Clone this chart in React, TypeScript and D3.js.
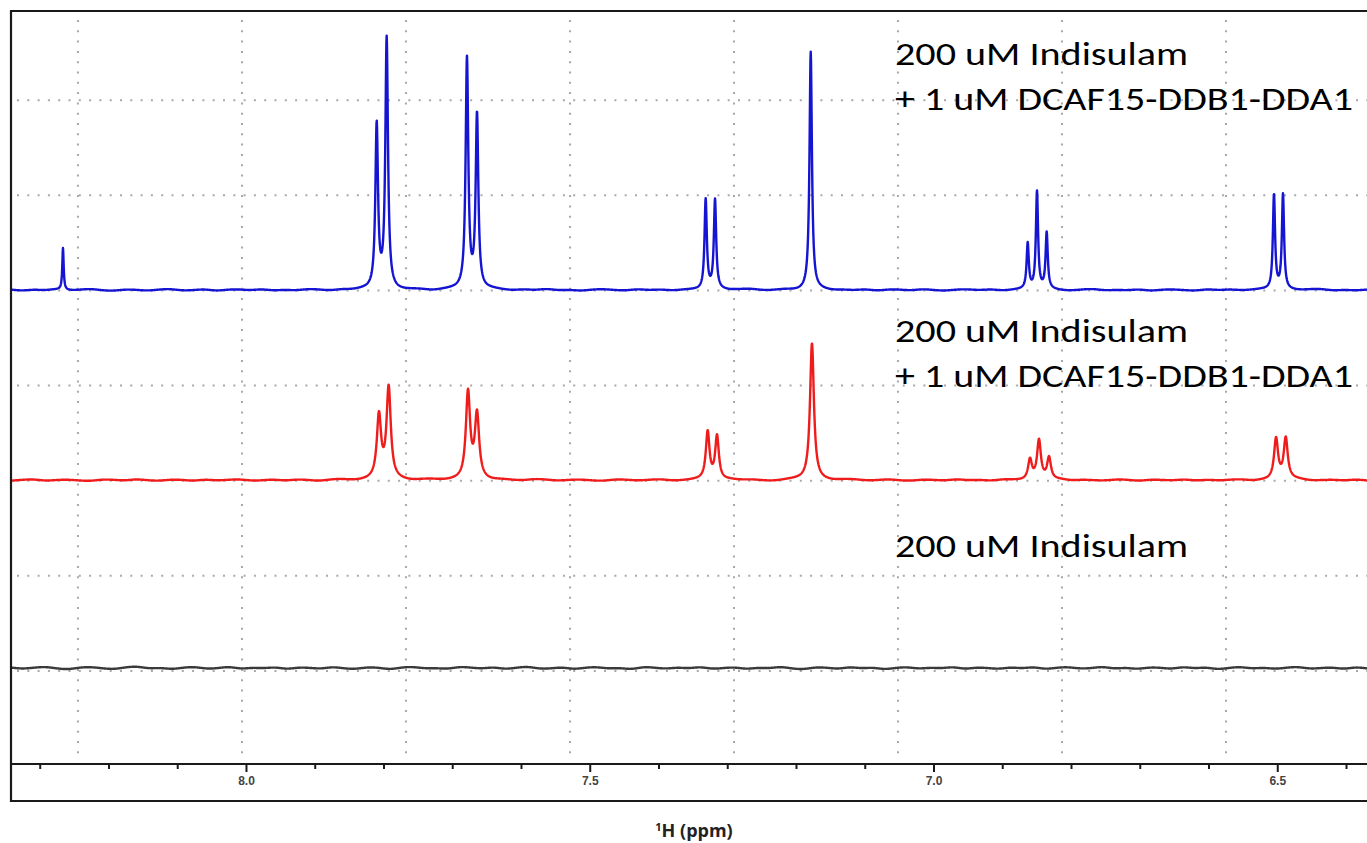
import React from "react";
import * as d3 from "d3";

// ---- data ----
const ppmDomain: [number, number] = [8.3425, 6.3702];
const majorTicks = [8.0, 7.5, 7.0, 6.5];
const majorTickLabels = ["8.0", "7.5", "7.0", "6.5"];
const minorTicks = [8.3, 8.2, 8.1, 7.9, 7.8, 7.7, 7.6, 7.4, 7.3, 7.2, 7.1, 6.9, 6.8, 6.7, 6.6, 6.4];
const gridPpm = [8.2451, 8.0065, 7.768, 7.5294, 7.2909, 7.0524, 6.8138, 6.5753];
const gridLevels = [1, 2, 3, 4, 5, 6, 7];

// peaks: position (ppm), height (intensity units), half width (ppm)
const bluePos = [8.2669, 7.8106, 7.7961, 7.6793, 7.6647, 7.3321, 7.3185, 7.1793, 6.8637, 6.8502, 6.8361, 6.5055, 6.4924];
const blueHeight = [0.44, 1.72, 2.63, 2.42, 1.83, 0.95, 0.94, 2.5, 0.48, 1.03, 0.59, 1.0, 1.0];
const blueWidth = [0.0012, 0.0023, 0.0023, 0.0023, 0.0023, 0.002, 0.002, 0.0021, 0.0019, 0.0019, 0.0019, 0.0019, 0.0019];

const redPos = [7.8073, 7.7932, 7.6778, 7.6647, 7.3292, 7.3156, 7.1775, 6.8604, 6.8473, 6.8327, 6.5025, 6.4884];
const redHeight = [0.66, 0.96, 0.91, 0.67, 0.5, 0.46, 1.44, 0.21, 0.41, 0.23, 0.43, 0.43];
const redWidth = [0.0037, 0.0037, 0.0037, 0.0037, 0.0032, 0.0032, 0.0034, 0.0033, 0.0033, 0.0033, 0.0035, 0.0035];

const blackPos: number[] = [];
const blackHeight: number[] = [];
const blackWidth: number[] = [];

// baseline offsets (intensity units)
const blueOffset = 5.004;
const redOffset = 3.005;
const blackOffset = 1.03;

// baseline wiggle (milli-units), spread evenly across the window
const blueNoise = [4, -9, 6, -5, 11, -6, 2, 13, -4, -10, 6, 2, -9, 5, 12, -7, -2, 9, -11, 4, 7, -5, 10, -8, 2, -7, 9, 4, -10, 6, -3, 10, -7, 4, -9, 2, 6, -12, 5, 9, -4, -7, 11, 2, -9, 6, -5, 13, -6, 2, -11, 4, 9, -2, -7, 10, -4, 6, -9, 2, 4, -10, 8, -4, 7, 12, -6, -2, 9, -8, 4, 10, -7, 2, -5, 8, -10, 6, 4, -7, 11, -2, -9, 5, 7, -4, 8, -10, 2, 7, -6, 10, -4, -9, 4, 12, -7, 2, -5, 9, -11, 4, 6, -2, -9, 10, -4, 7, -6, 2, 9, -10, 4, -5, 7, 11, -8, 2, -6, 4];
const redNoise = [-6, 4, 10, -8, 2, 6, -4, -10, 8, 4, -6, 12, -2, -8, 6, 4, -10, 8, -4, 2, 10, -6, -4, 8, -8, 6, 2, -12, 4, 10, -6, -2, 8, -4, 6, -10, 4, 8, -6, 2, -4, 10, -8, 6, -2, -6, 12, 4, -8, 2, 6, -4, -10, 8, 4, -6, 2, 10, -8, -4, 6, 4, -10, 8, -2, 6, -6, -12, 4, 10, -4, 2, -8, 6, 8, -6, -2, 10, -4, -8, 6, 2, -6, 12, -4, 4, -10, 8, 2, -6, 6, -4, 10, -8, 4, -2, -6, 8, 4, -10, 6, 2, -4, 10, -8, 6, -6, 4, 8, -10, 2, -4, 6, 12, -8, -2, 4, -6, 8, -4];
const blackNoise = [5, -9, 4, 14, -5, -16, 7, 11, -4, -13, 9, 18, -7, 4, -14, 5, 13, -9, -2, 16, -11, 5, -4, 11, -14, 7, 2, -9, 14, -5, -11, 9, 4, -16, 7, 13, -5, 0, -11, 14, 5, -7, 11, -13, 4, 16, -9, -4, 9, -14, 5, 11, -7, 2, -16, 13, 4, -9, 7, -5, 14, -11, 0, 9, -13, 5, -4, 16, -7, -14, 9, 4, -11, 13, -5, 7, -16, 2, 11, -9, 5, -4, 14, -13, 7, 0, -11, 9, -5, 13, -14, 4, 11, -7, -2, 16, -9, 5, -13, 7, 4, -11, 14, -5, 9, -16, 2, 13, -7, 5, -11, 4, 14, -9, 0, 7, -13, 11, -4];

const labelLine1 = "200 uM Indisulam";
const labelLine2 = "+ 1 uM DCAF15-DDB1-DDA1";

// ---- layout ----
const W = 1367;
const H = 843;
const left = 11;
const top = 11;
const axisY = 764;
const frameBottom = 801;

const x = d3.scaleLinear().domain(ppmDomain).range([left, W]);
const y = d3.scaleLinear().domain([0, 8]).range([766, 5]);

type Trace = { pos: number[]; height: number[]; width: number[]; offset: number; noise: number[] };

function buildTrace(t: Trace): [number, number][] {
  const step = 0.0004;
  const pts: [number, number][] = [];
  const noiseFn = d3.interpolateBasis(t.noise.map((v) => v / 1000));
  const [a, b] = ppmDomain;
  for (let p = a; p >= b - step; p -= step) {
    let v = t.offset;
    for (let i = 0; i < t.pos.length; i++) {
      const g = t.width[i];
      const d = p - t.pos[i];
      v += (t.height[i] * g * g) / (d * d + g * g);
    }
    v += noiseFn((a - p) / (a - b));
    pts.push([p, v]);
  }
  return pts;
}

const line = d3
  .line<[number, number]>()
  .x((d) => x(d[0]))
  .y((d) => y(d[1]));

const bluePath = line(buildTrace({ pos: bluePos, height: blueHeight, width: blueWidth, offset: blueOffset, noise: blueNoise })) || "";
const redPath = line(buildTrace({ pos: redPos, height: redHeight, width: redWidth, offset: redOffset, noise: redNoise })) || "";
const blackPath = line(buildTrace({ pos: blackPos, height: blackHeight, width: blackWidth, offset: blackOffset, noise: blackNoise })) || "";

const labelFont = 'Carlito, Calibri, "Noto Sans", sans-serif';

function Label({ yb, two }: { yb: number; two: boolean }) {
  return (
    <g fontFamily={labelFont} fontSize={33} fill="#000">
      <text x={895} y={yb} textLength={293} lengthAdjust="spacingAndGlyphs">
        {labelLine1}
      </text>
      {two && (
        <text x={895} y={yb + 45} textLength={458} lengthAdjust="spacingAndGlyphs">
          {labelLine2}
        </text>
      )}
    </g>
  );
}

export default function App() {
  return (
    <svg width={W} height={H} style={{ position: "absolute", left: 0, top: 0, background: "#fff" }}>
      <rect x={0} y={0} width={W} height={H} fill="#fff" />
      {/* grid */}
      <g stroke="#a8a8a8" strokeWidth={2} strokeDasharray="2,8.3">
        {gridLevels.map((k) => (
          <line key={"h" + k} x1={left + 6} x2={W} y1={y(k)} y2={y(k)} />
        ))}
        {gridPpm.map((p) => (
          <line key={"v" + p} x1={x(p)} x2={x(p)} y1={top + 9} y2={axisY - 3} />
        ))}
      </g>
      {/* traces */}
      <path d={blackPath} fill="none" stroke="#3a3a3a" strokeWidth={2.4} strokeLinejoin="round" />
      <path d={redPath} fill="none" stroke="#f01c1c" strokeWidth={2.4} strokeLinejoin="round" />
      <path d={bluePath} fill="none" stroke="#1414d2" strokeWidth={2.4} strokeLinejoin="round" />
      {/* labels */}
      <Label yb={65} two={true} />
      <Label yb={342} two={true} />
      <Label yb={557} two={false} />
      {/* frame */}
      <path d={`M${W + 5},${top} H${left} V${frameBottom} H${W + 5}`} fill="none" stroke="#1a1a1a" strokeWidth={2.2} />
      <line x1={left} x2={W} y1={axisY} y2={axisY} stroke="#1a1a1a" strokeWidth={2} />
      {/* ticks */}
      <g stroke="#1a1a1a" strokeWidth={2}>
        {minorTicks.map((t) => (
          <line key={"m" + t} x1={x(t)} x2={x(t)} y1={axisY} y2={axisY + 5} />
        ))}
        {majorTicks.map((t) => (
          <line key={"M" + t} x1={x(t)} x2={x(t)} y1={axisY} y2={axisY + 8} />
        ))}
      </g>
      <g fontFamily='"Liberation Sans", Arial, sans-serif' fontWeight="bold" fontSize={12} fill="#444" textAnchor="middle">
        {majorTicks.map((t, i) => (
          <text key={"l" + t} x={x(t)} y={785}>
            {majorTickLabels[i]}
          </text>
        ))}
      </g>
      {/* axis title */}
      <text x={694} y={837} textAnchor="middle" fontFamily='"Open Sans", "Noto Sans", sans-serif' fontWeight="bold" fontSize={18} fill="#222">
        <tspan fontSize={11} dy={-6}>1</tspan>
        <tspan dy={6}>H (ppm)</tspan>
      </text>
    </svg>
  );
}
